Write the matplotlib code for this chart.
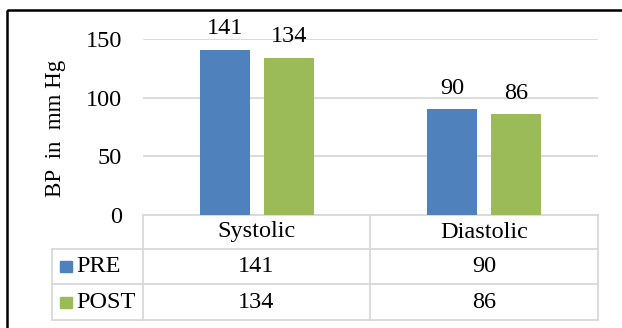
import matplotlib
matplotlib.use("Agg")
import matplotlib.pyplot as plt
from matplotlib.patches import Rectangle

categories = ["Systolic", "Diastolic"]
series_names = ["PRE", "POST"]
pre_values = [141, 90]
post_values = [134, 86]
y_ticks = [0, 50, 100, 150]
y_label = "BP  in  mm Hg"

colors = ["#4F81BD", "#9BBB59"]
grid_color = "#D9D9D9"
FS = 17.5

plt.rcParams["font.family"] = ["Liberation Serif", "DejaVu Serif"]

W, H = 622, 328
fig = plt.figure(figsize=(W / 100, H / 100), dpi=100)

# plot area in pixel coordinates
left, right, top, bottom = 143, 598, 39, 215
ax = fig.add_axes([left / W, 1 - bottom / H, (right - left) / W, (bottom - top) / H])

x = [0, 1]
bw = 0.22
gap = 0.062
series = [pre_values, post_values]
offsets = [-(bw + gap) / 2, (bw + gap) / 2]
for vals, off, c in zip(series, offsets, colors):
    bars = ax.bar([xi + off for xi in x], vals, width=bw, color=c, zorder=3)
    for b, v in zip(bars, vals):
        ax.annotate(str(v), (b.get_x() + b.get_width() / 2, v),
                    xytext=(0, 7.5), textcoords="offset points",
                    ha="center", va="bottom", fontsize=FS, color="#000000")

ax.set_xlim(-0.5, 1.5)
ax.set_ylim(0, 150)
ax.set_yticks(y_ticks)
ax.set_yticklabels([str(t) for t in y_ticks], fontsize=FS)
ax.tick_params(axis="y", length=0, pad=15)
ax.set_xticks([])
ax.grid(axis="y", color=grid_color, linewidth=1.3, zorder=0)
for s in ax.spines.values():
    s.set_visible(False)
ax.set_facecolor("none")

# overlay in pixel coordinates for the frame and the data table
ov = fig.add_axes([0, 0, 1, 1], zorder=-1)
ov.set_xlim(0, W)
ov.set_ylim(H, 0)
ov.axis("off")

ov.add_patch(Rectangle((7, 10), 700, 400, fill=False, edgecolor="black", linewidth=1.8))

ov.text(56, 128, y_label, rotation=90, ha="center", va="center", fontsize=16.5)

# data table
t_left, col_div = 52, 370
row_edges = [215, 249, 284, 320]
lw = 1.3
ov.plot([left, right], [row_edges[0]] * 2, color=grid_color, lw=lw)
for yv in row_edges[1:]:
    ov.plot([t_left, right], [yv, yv], color=grid_color, lw=lw)
ov.plot([left, left], [row_edges[0], row_edges[-1]], color=grid_color, lw=lw)
ov.plot([t_left, t_left], [row_edges[1], row_edges[-1]], color=grid_color, lw=lw)
ov.plot([col_div, col_div], [row_edges[0], row_edges[-1]], color=grid_color, lw=lw)
ov.plot([right, right], [row_edges[0], row_edges[-1]], color=grid_color, lw=lw)

col_centers = [(left + col_div) / 2, (col_div + right) / 2]
hdr_y = (row_edges[0] + row_edges[1]) / 2
for cx, cat in zip(col_centers, categories):
    ov.text(cx, hdr_y, cat, ha="center", va="center", fontsize=FS)

for i, (name, vals, c) in enumerate(zip(series_names, series, colors)):
    ry = (row_edges[i + 1] + row_edges[i + 2]) / 2
    ov.add_patch(Rectangle((60, ry - 5.5), 12, 11, color=c))
    ov.text(76, ry, name, ha="left", va="center", fontsize=FS)
    for cx, v in zip(col_centers, vals):
        ov.text(cx, ry, str(v), ha="center", va="center", fontsize=FS)

fig.savefig("out.png", dpi=100)
